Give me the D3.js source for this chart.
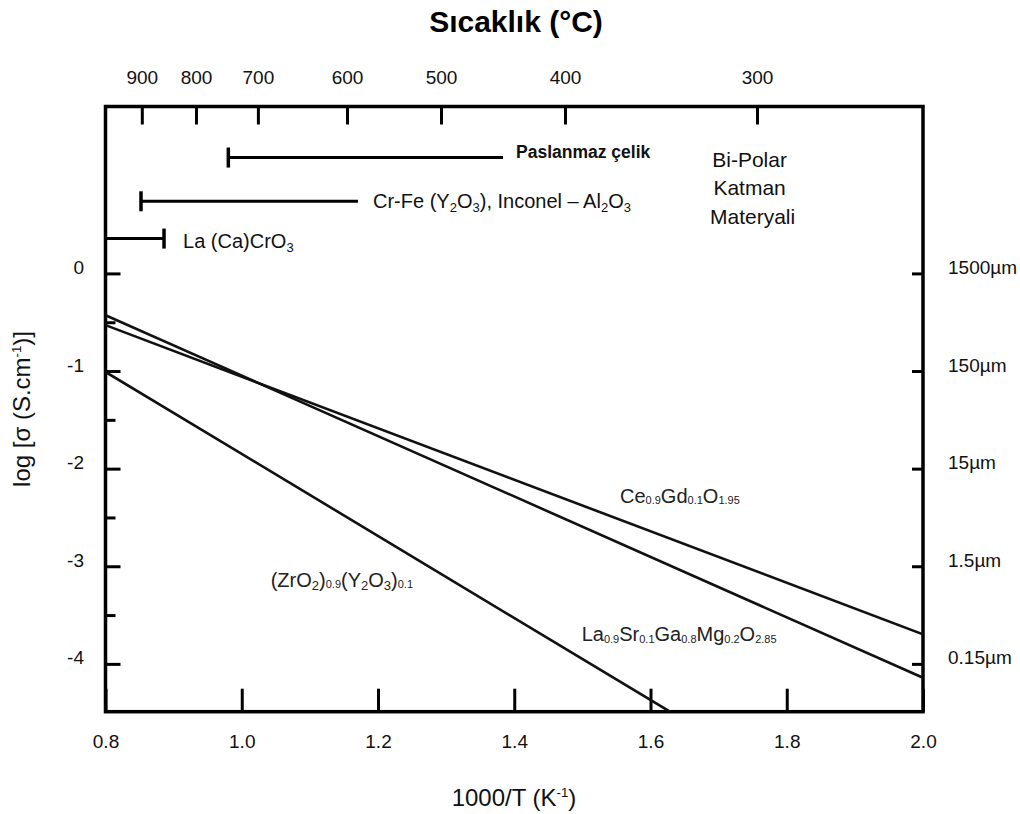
<!DOCTYPE html>
<html>
<head>
<meta charset="utf-8">
<script src="https://cdn.jsdelivr.net/npm/d3@7"></script>
<style>
  html, body { margin: 0; padding: 0; background: #fff; }
  svg { display: block; font-family: "Liberation Sans", Arial, Helvetica, sans-serif; }
</style>
</head>
<body>
<svg id="chart" width="1020" height="814"></svg>
<script>
// ---- values ----
const xTicks = [0.8, 1.0, 1.2, 1.4, 1.6, 1.8, 2.0];
const yTicks = [0, -1, -2, -3, -4];
const yMinorTicks = [-0.5, -1.5, -2.5, -3.5];
const thicknessLabels = ["1500µm", "150µm", "15µm", "1.5µm", "0.15µm"];
const tempLabels = [900, 800, 700, 600, 500, 400, 300];        // °C
const tempInvT = [0.8533, 0.9328, 1.0237, 1.1545, 1.2925, 1.4745, 1.7563]; // 1000/T of each °C tick

// conductivity lines: [1000/T, log σ]
const cgoValues  = [[0.8, -0.530], [2.0, -3.697]];
const lsgmValues = [[0.8, -0.428], [2.0, -4.142]];
const yszValues  = [[0.8, -1.009], [1.6286, -4.49]];
const seriesNames = [
  "Ce_[0.9]Gd_[0.1]O_[1.95]",
  "La_[0.9]Sr_[0.1]Ga_[0.8]Mg_[0.2]O_[2.85]",
  "(ZrO_{2})_[0.9](Y_{2}O_{3})_[0.1]"
];

// interconnect material ranges: 1000/T span and level on the log σ axis
const materialNames = ["Paslanmaz çelik", "Cr-Fe (Y_{2}O_{3}), Inconel – Al_{2}O_{3}", "La (Ca)CrO_{3}"];
const materialSpans = [[0.9803, 1.3835], [0.8521, 1.1706], [0.8, 0.8859]];
const materialLevels = [1.187, 0.739, 0.357];
const materialCapSide = ["start", "start", "end"];

const bipolarLines = ["Bi-Polar", "Katman", "Materyali"];

// ---- layout ----
const svg = d3.select("#chart");
const plot = { left: 105.5, right: 923, top: 106.5, bottom: 711.7 };
const x = d3.scaleLinear().domain([0.8, 2.0]).range([plot.left, plot.right]);
const y = d3.scaleLinear().domain([-4.49, 1.71]).range([plot.bottom, plot.top]);

const tickFont = 19;

// rich text: _{..} subscript, _[..] small subscript, ^{..} superscript
function richText(sel, str, size) {
  const re = /(_\{[^}]*\}|_\[[^\]]*\]|\^\{[^}]*\})/;
  const parts = str.split(re).filter(p => p !== "");
  let cur = 0;
  parts.forEach(p => {
    let txt = p, fs = size, off = 0;
    if (p.startsWith("_{")) { txt = p.slice(2, -1); fs = size * 0.65; off = size * 0.18; }
    else if (p.startsWith("_[")) { txt = p.slice(2, -1); fs = size * 0.55; off = size * 0.08; }
    else if (p.startsWith("^{")) { txt = p.slice(2, -1); fs = size * 0.55; off = -size * 0.36; }
    sel.append("tspan")
      .attr("font-size", fs)
      .attr("dy", off - cur)
      .text(txt);
    cur = off;
  });
  return sel;
}

// ---- axes ----
const gBottom = svg.append("g")
  .attr("transform", `translate(0,${plot.bottom})`)
  .call(d3.axisBottom(x).tickValues(xTicks).tickFormat(d3.format(".1f"))
    .tickSizeInner(-23).tickSizeOuter(0).tickPadding(22.6));

const gLeft = svg.append("g")
  .attr("transform", `translate(${plot.left},0)`)
  .call(d3.axisLeft(y).tickValues(yTicks).tickFormat(d => String(d))
    .tickSizeInner(-15).tickSizeOuter(0).tickPadding(21.5));

const gLeftMinor = svg.append("g")
  .attr("transform", `translate(${plot.left},0)`)
  .call(d3.axisLeft(y).tickValues(yMinorTicks).tickFormat("")
    .tickSizeInner(-10).tickSizeOuter(0));

const gRight = svg.append("g")
  .attr("transform", `translate(${plot.right},0)`)
  .call(d3.axisRight(y).tickValues(yTicks).tickFormat((d, i) => thicknessLabels[i])
    .tickSizeInner(-11).tickSizeOuter(0).tickPadding(25));

const gTop = svg.append("g")
  .attr("transform", `translate(0,${plot.top})`)
  .call(d3.axisTop(x).tickValues(tempInvT).tickFormat((d, i) => tempLabels[i])
    .tickSizeInner(-18).tickSizeOuter(0).tickPadding(22.5));

[gBottom, gLeft, gLeftMinor, gRight, gTop].forEach(g => {
  g.select(".domain").remove();
  g.selectAll(".tick line").attr("stroke", "#000").attr("stroke-width", 3);
  g.selectAll(".tick text")
    .attr("fill", "#111")
    .attr("font-size", tickFont)
    .attr("font-family", "'Liberation Sans', Arial, sans-serif");
});
gLeft.selectAll(".tick text").attr("dy", "0em");
gRight.selectAll(".tick text").attr("dy", "0em");
gTop.selectAll(".tick text").attr("dy", "0em");

// frame
svg.append("rect")
  .attr("x", plot.left).attr("y", plot.top)
  .attr("width", plot.right - plot.left).attr("height", plot.bottom - plot.top)
  .attr("fill", "none").attr("stroke", "#000").attr("stroke-width", 3.5);

// ---- conductivity lines ----
svg.append("clipPath").attr("id", "plotClip")
  .append("rect")
  .attr("x", plot.left).attr("y", plot.top)
  .attr("width", plot.right - plot.left).attr("height", plot.bottom - plot.top);

const line = d3.line().x(d => x(d[0])).y(d => y(d[1]));
const gLines = svg.append("g").attr("clip-path", "url(#plotClip)");
[cgoValues, lsgmValues, yszValues].forEach(vals => {
  gLines.append("path")
    .attr("d", line(vals))
    .attr("fill", "none")
    .attr("stroke", "#111")
    .attr("stroke-width", 2.6);
});

// series labels, anchored in data units
const seriesLabelAt = [[1.5552, -2.35], [1.499, -3.766], [1.0425, -3.208]];
seriesNames.forEach((name, i) => {
  const t = svg.append("text")
    .attr("x", x(seriesLabelAt[i][0]))
    .attr("y", y(seriesLabelAt[i][1]))
    .attr("fill", "#222");
  richText(t, name, 20);
});

// ---- material range bars ----
const capHalf = 10;
materialSpans.forEach((span, i) => {
  const yy = y(materialLevels[i]);
  svg.append("line")
    .attr("x1", x(span[0])).attr("x2", x(span[1]))
    .attr("y1", yy).attr("y2", yy)
    .attr("stroke", "#000").attr("stroke-width", 3);
  const cx = materialCapSide[i] === "start" ? x(span[0]) : x(span[1]);
  svg.append("line")
    .attr("x1", cx).attr("x2", cx)
    .attr("y1", yy - capHalf).attr("y2", yy + capHalf)
    .attr("stroke", "#000").attr("stroke-width", 3.5);
});

const materialLabelX = [1.4026, 1.1927, 0.9138];
const materialLabelDy = [0.5, 7, 9.7];
materialNames.forEach((name, i) => {
  const t = svg.append("text")
    .attr("x", x(materialLabelX[i]))
    .attr("y", y(materialLevels[i]) + materialLabelDy[i])
    .attr("fill", "#111");
  if (i === 0) t.attr("font-weight", "bold");
  richText(t, name, i === 0 ? 17.5 : 20);
});

// Bi-Polar note
const bp = svg.append("text")
  .attr("x", x(1.7455)).attr("y", y(1.093))
  .attr("text-anchor", "middle")
  .attr("font-size", 21)
  .attr("fill", "#111");
bipolarLines.forEach((s, i) => {
  bp.append("tspan").attr("x", x(1.7455) + (i === 2 ? 3 : 0)).attr("dy", i === 0 ? 0 : 28.5).text(s);
});

// ---- titles ----
svg.append("text")
  .attr("x", 516).attr("y", 32)
  .attr("text-anchor", "middle")
  .attr("font-size", 30).attr("font-weight", "bold")
  .attr("fill", "#000")
  .text("Sıcaklık (°C)");

const xt = svg.append("text")
  .attr("x", 514).attr("y", 806)
  .attr("text-anchor", "middle")
  .attr("fill", "#111");
richText(xt, "1000/T (K^{-1})", 24);

const yt = svg.append("text")
  .attr("transform", "translate(30,409) rotate(-90)")
  .attr("text-anchor", "middle")
  .attr("fill", "#111");
richText(yt, "log [σ (S.cm^{-1})]", 24);
</script>
</body>
</html>
